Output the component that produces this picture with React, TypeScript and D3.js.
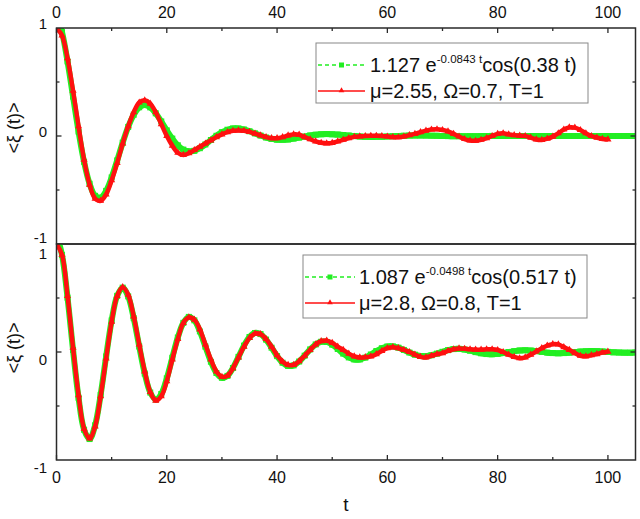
import React from "react";
import * as d3 from "d3";

// ---------- data ----------
const X_MAJOR = [0, 20, 40, 60, 80, 100];
const X_MINOR = [10, 30, 50, 70, 90];
const Y_MAJOR = [-1, 0, 1];
const Y_MINOR = [-0.5, 0.5];

// fit curve, top panel, t = 0..105 step 1
const TOP_FIT = [
  1.127, 0.962, 0.69, 0.365, 0.041, -0.239, -0.442, -0.554, -0.571, -0.508,
  -0.384, -0.226, -0.062, 0.084, 0.197, 0.266, 0.287, 0.265, 0.21, 0.135,
  0.052, -0.024, -0.086, -0.126, -0.142, -0.137, -0.113, -0.078, -0.037, 0.002,
  0.035, 0.058, 0.07, 0.07, 0.06, 0.044, 0.024, 0.004, -0.014, -0.027,
  -0.034, -0.035, -0.032, -0.024, -0.015, -0.005, 0.005, 0.012, 0.016, 0.018,
  0.016, 0.013, 0.009, 0.004, -0.001, -0.005, -0.008, -0.009, -0.008, -0.007,
  -0.005, -0.002, 0.0, 0.002, 0.004, 0.005, 0.005, 0.004, 0.003, 0.002,
  0.0, -0.001, -0.002, -0.002, -0.003, -0.002, -0.002, -0.001, 0.0, 0.001,
  0.001, 0.001, 0.001, 0, 0, 0, 0, 0, 0, 0,
  0, 0, 0, 0, 0, 0, 0, 0, 0, 0,
  0, 0, 0, 0, 0, 0,
];

// simulation, top panel, t = 0..100 step 1
const TOP_SIM = [
  1.0, 0.93, 0.72, 0.42, 0.09, -0.22, -0.45, -0.58, -0.6, -0.54,
  -0.41, -0.25, -0.07, 0.09, 0.22, 0.31, 0.33, 0.3, 0.22, 0.11,
  0.0, -0.09, -0.155, -0.175, -0.16, -0.13, -0.1, -0.07, -0.04, -0.01,
  0.015, 0.035, 0.048, 0.052, 0.048, 0.038, 0.022, 0.005, -0.01, -0.02,
  -0.02, -0.01, 0.005, 0.015, 0.012, -0.01, -0.03, -0.05, -0.063, -0.068,
  -0.064, -0.05, -0.035, -0.02, -0.008, -0.003, 0.0, 0.002, 0.002, 0.0,
  -0.005, -0.01, -0.012, -0.005, 0.008, 0.02, 0.035, 0.05, 0.06, 0.062,
  0.055, 0.043, 0.02, -0.005, -0.028, -0.042, -0.044, -0.035, -0.02, 0.0,
  0.02, 0.025, 0.015, 0.008, 0.003, 0.0, -0.015, -0.032, -0.036, -0.025,
  -0.006, 0.025, 0.06, 0.08, 0.078, 0.055, 0.025, 0.0, -0.015, -0.027,
  -0.032,
];

// fit curve, bottom panel, t = 0..105 step 1
const BOT_FIT = [
  1.087, 0.899, 0.503, 0.019, -0.424, -0.72, -0.806, -0.679, -0.397, -0.041,
  0.292, 0.52, 0.596, 0.515, 0.313, 0.051, -0.199, -0.375, -0.44, -0.389,
  -0.244, -0.053, 0.134, 0.27, 0.325, 0.293, 0.191, 0.05, -0.09, -0.194,
  -0.239, -0.221, -0.148, -0.045, 0.059, 0.139, 0.176, 0.166, 0.115, 0.04,
  -0.038, -0.099, -0.129, -0.124, -0.088, -0.034, 0.024, 0.07, 0.095, 0.093,
  0.068, 0.028, -0.015, -0.05, -0.069, -0.069, -0.052, -0.023, 0.009, 0.035,
  0.051, 0.052, 0.04, 0.019, -0.005, -0.025, -0.037, -0.039, -0.03, -0.015,
  0.002, 0.017, 0.027, 0.029, 0.023, 0.012, -0.001, -0.012, -0.019, -0.021,
  -0.017, -0.01, 0.0, 0.008, 0.014, 0.016, 0.013, 0.008, 0.001, -0.006,
  -0.01, -0.012, -0.01, -0.006, -0.001, 0.004, 0.007, 0.009, 0.008, 0.005,
  0.001, -0.003, -0.005, -0.006, -0.006, -0.004,
];

// simulation, bottom panel, t = 0..100 step 1
const BOT_SIM = [
  1.0, 0.9, 0.52, 0.04, -0.4, -0.71, -0.8, -0.69, -0.41, -0.06,
  0.28, 0.52, 0.6, 0.53, 0.33, 0.07, -0.18, -0.37, -0.45, -0.41,
  -0.27, -0.07, 0.12, 0.27, 0.32, 0.3, 0.21, 0.07, -0.07, -0.18,
  -0.23, -0.22, -0.15, -0.05, 0.05, 0.13, 0.17, 0.165, 0.12, 0.05,
  -0.03, -0.09, -0.12, -0.12, -0.085, -0.035, 0.02, 0.07, 0.1, 0.105,
  0.085, 0.05, 0.02, -0.015, -0.04, -0.05, -0.048, -0.04, -0.02, 0.01,
  0.035, 0.045, 0.035, 0.02, 0.0, -0.025, -0.045, -0.05, -0.035, -0.02,
  -0.01, 0.01, 0.025, 0.033, 0.03, 0.025, 0.022, 0.022, 0.025, 0.025,
  0.018, 0.0, -0.025, -0.045, -0.058, -0.05, -0.025, 0.005, 0.035, 0.06,
  0.072, 0.07, 0.045, 0.02, -0.01, -0.035, -0.04, -0.03, -0.02, -0.005,
  0.003,
];

const PANELS = [
  {
    fit: TOP_FIT,
    sim: TOP_SIM,
    fitBase: "1.127 e",
    fitSup: "-0.0843 t",
    fitTail: "cos(0.38 t)",
    simLabel: "\u03bc=2.55, \u03a9=0.7, T=1",
  },
  {
    fit: BOT_FIT,
    sim: BOT_SIM,
    fitBase: "1.087 e",
    fitSup: "-0.0498 t",
    fitTail: "cos(0.517 t)",
    simLabel: "\u03bc=2.8, \u03a9=0.8, T=1",
  },
];

// ---------- layout ----------
const W = 640;
const H = 519;
const X0 = 56.5;
const X1 = 635.5;
const PANEL_Y = [
  [28, 244],
  [244, 460],
];
const LEGENDS = [
  { x: 316, y: 43, w: 272, h: 60, sx0: 318, sx1: 365, tx: 370, r1: 65, r2: 91 },
  { x: 303, y: 255, w: 284, h: 63, sx0: 305, sx1: 355, tx: 359, r1: 277, r2: 303 },
];

const GREEN = "#22ee22";
const RED = "#ff1010";
const AXIS = "#2a2a2a";
const FONT = "'Liberation Sans', Arial, Helvetica, sans-serif";

export default function App() {
  const x = d3.scaleLinear().domain([0, 105]).range([X0, X1]);
  const tri = d3.symbol().type(d3.symbolTriangle).size(22)();
  const tri2 = d3.symbol().type(d3.symbolTriangle).size(14)();

  return (
    <svg width={W} height={H} style={{ display: "block", position: "absolute", left: 0, top: 0, background: "#fff" }}>
      <defs>
        {PANEL_Y.map(([a, b], i) => (
          <clipPath id={`clip${i}`} key={i}>
            <rect x={X0} y={a} width={X1 - X0} height={b - a} />
          </clipPath>
        ))}
      </defs>
      {PANELS.map((p, i) => {
        const [yt, yb] = PANEL_Y[i];
        const y = d3.scaleLinear().domain([-1, 1]).range([yb, yt]);
        const line = d3
          .line<number>()
          .x((_, j) => x(j))
          .y((d) => y(d))
          .curve(d3.curveCatmullRom);
        const lg = LEGENDS[i];
        const isTop = i === 0;
        const labelDy = (v: number) => {
          if (isTop) return v === -1 ? -1.5 : 0.5;
          return v === 1 ? 14.5 : 12.5;
        };
        return (
          <g key={i}>
            <g clipPath={`url(#clip${i})`}>
              <path d={line(p.fit) || ""} fill="none" stroke={GREEN} strokeWidth={6} />
              {p.fit.map((d, j) => (
                <rect key={j} x={x(j) - 3} y={y(d) - 3} width={6} height={6} fill={GREEN} />
              ))}
              <path d={line(p.sim) || ""} fill="none" stroke={RED} strokeWidth={4.5} />
              {p.sim.map((d, j) => (
                <path key={j} d={tri || ""} transform={`translate(${x(j)},${y(d)})`} fill={RED} />
              ))}
            </g>
            {/* frame */}
            <rect x={X0} y={yt} width={X1 - X0} height={yb - yt} fill="none" stroke={AXIS} strokeWidth={1.5} />
            {/* x ticks */}
            {X_MAJOR.map((t) => (
              <line
                key={`M${t}`}
                x1={x(t)}
                x2={x(t)}
                y1={isTop ? yt : yb}
                y2={isTop ? yt + 5 : yb - 5}
                stroke={AXIS}
                strokeWidth={1.3}
              />
            ))}
            {X_MINOR.map((t) => (
              <line
                key={`m${t}`}
                x1={x(t)}
                x2={x(t)}
                y1={isTop ? yt : yb}
                y2={isTop ? yt + 3 : yb - 3}
                stroke={AXIS}
                strokeWidth={1.3}
              />
            ))}
            {X_MAJOR.map((t) => (
              <text
                key={`l${t}`}
                x={x(t)}
                y={isTop ? 18 : 483}
                textAnchor="middle"
                fontFamily={FONT}
                fontSize={16}
                fill="#111"
              >
                {t}
              </text>
            ))}
            {/* y ticks */}
            {[0].concat(Y_MINOR).map((v) => {
              const len = v === 0 ? 5 : 3;
              return (
                <g key={`y${v}`}>
                  <line x1={X0} x2={X0 + len} y1={y(v)} y2={y(v)} stroke={AXIS} strokeWidth={1.3} />
                  <line x1={X1} x2={X1 - len} y1={y(v)} y2={y(v)} stroke={AXIS} strokeWidth={1.3} />
                </g>
              );
            })}
            {Y_MAJOR.map((v) => (
              <text
                key={`yl${v}`}
                x={47}
                y={y(v) + labelDy(v)}
                textAnchor="end"
                fontFamily={FONT}
                fontSize={15}
                fill="#111"
              >
                {v}
              </text>
            ))}
            {/* y title */}
            <text
              transform={`translate(20,${isTop ? 128 : 348}) rotate(-90)`}
              textAnchor="middle"
              fontFamily={FONT}
              fontSize={18}
              fill="#111"
            >
              {"<\u03be (t)>"}
            </text>
            {/* legend */}
            <rect x={lg.x} y={lg.y} width={lg.w} height={lg.h} fill="#fff" stroke="#888" strokeWidth={1} />
            <line x1={lg.sx0} x2={lg.sx1} y1={lg.r1} y2={lg.r1} stroke={GREEN} strokeWidth={1.5} strokeDasharray="4,3" />
            <rect x={(lg.sx0 + lg.sx1) / 2 - 2.5} y={lg.r1 - 2.5} width={5} height={5} fill={GREEN} />
            <text x={lg.tx} y={lg.r1 + 7} fontFamily={FONT} fontSize={20} fill="#111">
              {p.fitBase}
              <tspan fontSize={11.5} dy={-9}>{p.fitSup}</tspan>
              <tspan dy={9}>{p.fitTail}</tspan>
            </text>
            <line x1={lg.sx0} x2={lg.sx1} y1={lg.r2} y2={lg.r2} stroke={RED} strokeWidth={1.5} />
            <path d={tri2 || ""} transform={`translate(${(lg.sx0 + lg.sx1) / 2},${lg.r2 - 0.5})`} fill={RED} />
            <text x={lg.tx} y={lg.r2 + 7} fontFamily={FONT} fontSize={20} fill="#111">
              {p.simLabel}
            </text>
          </g>
        );
      })}
      <text x={x(52.5)} y={511} textAnchor="middle" fontFamily={FONT} fontSize={19} fill="#111">
        t
      </text>
    </svg>
  );
}
